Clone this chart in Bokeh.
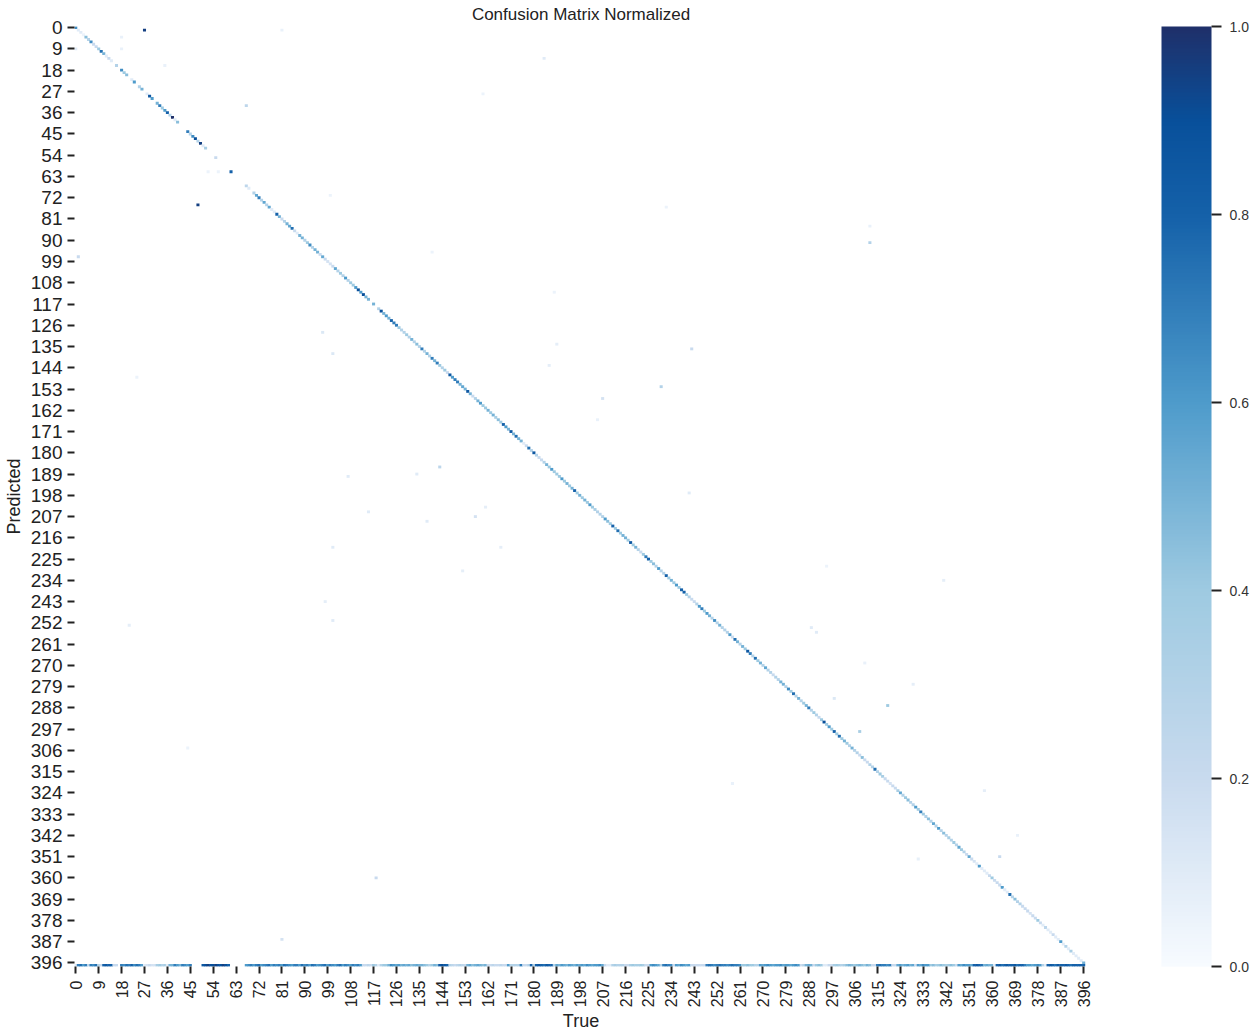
import math
import numpy as np
from bokeh.embed import file_html
from bokeh.resources import INLINE
from bokeh.plotting import figure
from bokeh.models import ColorBar, FixedTicker, LinearColorMapper, ColumnDataSource, PrintfTickFormatter
from bokeh.colors import RGB

tick_labels = list(range(0, 397, 9))
colorbar_ticks = [0.0, 0.2, 0.4, 0.6, 0.8, 1.0]

diagonal = [
 .65,.1,.1,.05,.45,.3,.65,.2,.2,.4,
 .75,.5,.1,.2,.1,0,.3,0,.65,.4,
 .45,0,.1,.6,0,.3,.5,0,.1,.85,
 .6,0,.5,.7,.4,.6,.8,.3,1.0,.1,
 .45,0,0,0,.7,.3,.65,.9,.3,.95,
 .1,.35,0,0,0,.2,0,0,0,0,
 0,.8,0,0,0,0,0,.25,.1,0,
 .3,.55,.7,.3,.55,.3,.55,.1,.1,.8,
 .5,.2,.3,.5,.55,.75,.2,.1,.5,.5,
 .3,.4,.65,.3,.5,.5,.2,.55,.2,.15,
 .15,.2,.55,.3,.4,.3,.6,.3,.4,.4,
 .6,.9,.6,.9,.5,.5,0,.5,0,.3,
 .9,.5,.6,.5,.8,.7,.7,.4,.3,.3,
 .4,.3,.5,.3,.45,.3,.7,.3,.5,.3,
 .7,.5,.7,.4,.3,.4,.2,.85,.6,.7,
 .7,.5,.55,.5,.85,.5,.2,.3,.5,.6,
 .4,.4,.5,.4,.5,.35,.45,.4,.8,.6,
 .5,.85,.5,.75,.5,.5,.1,.2,.75,.3,
 .85,.3,.2,.2,.3,.5,.4,.6,.4,.4,
 .4,.6,.4,.5,.4,.5,.8,.4,.5,.4,
 .5,.4,.6,.4,.35,.3,.3,.3,.6,.45,
 .4,.8,.4,.75,.4,.5,.5,.4,.85,.4,
 .5,.3,.2,.4,.7,.8,.4,.45,.3,.6,
 .3,.3,.8,.4,.5,.4,.6,.4,.8,.8,
 .4,.3,.2,.2,.3,.6,.7,.4,.6,.5,
 .3,.65,.3,.5,.3,.3,.3,.6,.2,.75,
 .5,.3,.5,.4,.85,.7,.3,.75,.4,.5,
 .3,.55,.3,.3,.2,.3,.3,.5,.5,.3,
 .65,.4,.75,.3,.5,.3,.4,.5,.7,.3,
 .4,.3,.2,.4,.9,.4,.6,.4,.8,.4,
 .75,.4,.5,.4,.3,.5,.3,.3,.2,.45,
 .2,.2,.3,.3,.75,.3,.4,.35,.2,.2,
 .15,.2,.2,.35,.55,.3,.4,.45,.3,.3,
 .6,.4,.7,.4,.3,.45,.3,.55,.3,.6,
 .3,.45,.3,.35,.3,.4,.3,.55,.4,.3,
 .2,.55,.2,.15,.1,.6,.1,.1,.1,.2,
 .4,.2,.2,.2,.6,.1,.1,.75,.3,.45,
 .3,.3,.2,.2,.2,.15,.2,.2,.4,.2,
 .1,.25,.1,.1,.2,.1,.1,.6,.1,.3,
 .1,.35,.1,.1,.1,.1,.5,
]

background_row = [
 .1,.7,.75,.6,.7,.25,.7,.65,.75,.3,
 .2,.8,.85,.8,.8,.2,.2,0,.7,.65,
 .75,.7,.8,.65,.75,.7,.6,.1,.15,.2,
 .15,.15,.35,.4,.3,.35,.1,.5,.5,.7,
 .6,.5,.7,.65,.6,.7,0,0,0,0,
 .85,.9,.95,.9,.9,.95,.9,.9,.95,.9,
 .8,0,0,0,0,0,0,.6,.65,.7,
 .6,.7,.75,.6,.65,.7,.75,.6,.7,.65,
 .7,.6,.75,.7,.65,.6,.7,.7,.6,.75,
 .65,.7,.6,.75,.7,.6,.65,.7,.75,.6,
 .7,.65,.6,.7,.75,.6,.7,.65,.6,.7,
 .65,.7,.6,.2,.2,.25,.2,.4,.3,.1,
 .3,.4,.4,.5,.65,.6,.55,.6,.5,.55,
 .5,.55,.45,.5,.55,.5,.5,.45,.4,.3,
 .4,.5,.45,.85,.9,.85,.8,.3,.25,.2,
 .25,.3,.25,.2,.5,.55,.45,.5,.55,.5,
 .45,.5,.2,.2,.25,.2,.2,.25,.2,.2,
 .6,.3,.3,.3,.3,.7,.2,.2,.3,.8,
 .3,.8,.85,.8,.75,.85,.8,.8,.3,.55,
 .5,.6,.55,.5,.6,.55,.5,.6,.55,.6,
 .55,.65,.6,.55,.6,.6,.65,.55,.2,.1,
 .1,.3,.35,.3,.3,.3,.2,.2,.35,.4,
 .35,.35,.4,.35,.2,.2,.6,.65,.6,.55,
 .3,.7,.75,.7,.65,.2,.6,.55,.65,.6,
 .55,.6,.2,.2,.2,.2,.2,.2,.7,.75,
 .7,.65,.7,.75,.7,.7,.65,.7,.75,.7,
 .7,.65,.4,.4,.45,.4,.4,.3,.3,.6,
 .55,.6,.65,.6,.55,.6,.6,.65,.55,.6,
 .6,.55,.6,.65,.6,.2,.3,.5,.55,.5,
 .2,.4,.45,.4,.1,.1,.2,.2,.35,.4,
 .35,.3,.35,.45,.5,.45,.4,.45,.5,.45,
 .4,.5,.45,.2,.2,.7,.75,.7,.7,.65,
 .7,.2,.2,.55,.6,.5,.55,.6,.5,.55,
 .2,.6,.55,.65,.6,.6,.4,.45,.35,.4,
 .45,.4,.35,.4,.45,.4,.2,.6,.55,.65,
 .6,.6,.55,.8,.85,.8,.75,.5,.55,.5,
 .5,.1,.8,.85,.75,.8,.85,.8,.8,.85,
 .75,.8,.8,.7,.6,.6,.55,.6,.65,.6,
 .3,.1,.8,.85,.8,.75,.85,.8,.8,.85,
 .8,.75,.8,.8,.8,.8,.8,
]

stray_col = [27,48,67,0,312,1,242,230,207,143,157,319,308,363,118,81,184,115,101,101,98,
             289,291,298,341,107,134,97,101,189,186,167,152,138,161,241,21,312,329,357,
             205,188,44,24,100,258,331,140,160,232,310,295,370,81,52,56,18,18,35]
stray_row = [1,75,33,9,91,97,136,152,157,186,207,287,298,351,360,386,13,205,220,251,243,
             254,256,284,234,190,189,129,138,134,143,220,230,209,203,197,253,84,278,323,
             166,112,305,148,71,320,352,95,28,76,269,228,342,1,61,61,4,9,16]
stray_val = [.95,.95,.25,.1,.3,.2,.2,.3,.15,.25,.15,.4,.35,.2,.2,.15,.1,.1,.1,.1,.08,
             .1,.1,.12,.08,.1,.1,.12,.12,.08,.08,.08,.08,.1,.08,.1,.08,.06,.08,.08,
             .06,.05,.05,.05,.05,.06,.07,.05,.05,.05,.06,.05,.06,.06,.05,.05,.06,.06,.06]

ANCHOR_V = [0, .2, .4, .6, .8, .9, 1.0]
ANCHOR_C = [(247,251,255),(200,218,238),(158,202,225),(78,155,203),(21,97,169),(8,80,155),(31,48,106)]
palette = [RGB(*[int(round(np.interp(k/255, ANCHOR_V, [c[j] for c in ANCHOR_C]))) for j in range(3)]).to_hex()
           for k in range(256)]
mapper = LinearColorMapper(palette=palette, low=0, high=1)

xs, ys, vs = [], [], []
for i, v in enumerate(diagonal):
    if v > 0:
        xs.append(i); ys.append(i); vs.append(v)
for i, v in enumerate(background_row):
    if v > 0:
        xs.append(i); ys.append(397); vs.append(v)
xs += stray_col; ys += stray_row; vs += stray_val
source = ColumnDataSource(dict(x=xs, y=ys, v=vs))

FONT = "Liberation Sans"
p = figure(width=1254, height=1034, output_backend="svg", toolbar_location=None,
           x_range=(-0.5, 397.5), y_range=(397.5, -0.5),
           title="Confusion Matrix Normalized", x_axis_label="True", y_axis_label="Predicted",
           min_border_left=73, min_border_top=26, min_border_right=167, min_border_bottom=67,
           margin=(0, 0, 0, 0))
p.rect("x", "y", width=1.2, height=1.2, source=source, line_color=None,
       fill_color={"field": "v", "transform": mapper})

p.grid.visible = False
p.outline_line_color = None
p.title.align = "center"
p.title.vertical_align = "top"
p.title.text_font = FONT
p.title.text_font_size = "17px"
p.title.text_font_style = "normal"
p.title.text_color = "#222222"
p.title.standoff = 2

for ax, fs in ((p.xaxis[0], "16px"), (p.yaxis[0], "19px")):
    ax.ticker = FixedTicker(ticks=tick_labels)
    ax.axis_line_color = None
    ax.major_tick_line_color = "#222222"
    ax.major_tick_line_width = 2
    ax.major_tick_out = 7
    ax.major_tick_in = 0
    ax.minor_tick_line_color = None
    ax.major_label_text_font = FONT
    ax.major_label_text_font_size = fs
    ax.major_label_text_color = "#222222"
    ax.axis_label_text_font = FONT
    ax.axis_label_text_font_style = "normal"
    ax.axis_label_text_font_size = "18px"
    ax.axis_label_text_color = "#222222"
p.xaxis[0].major_label_orientation = math.pi / 2
p.xaxis[0].major_label_standoff = 7
p.yaxis[0].major_label_standoff = 5
p.yaxis[0].axis_label_standoff = 4
p.xaxis[0].axis_label_standoff = 1

cb = ColorBar(color_mapper=mapper, width=50, height="auto", padding=0, margin=0, location=(74, 0),
              ticker=FixedTicker(ticks=colorbar_ticks), formatter=PrintfTickFormatter(format="%.1f"),
              major_label_text_font=FONT,
              major_label_text_font_size="14px", major_label_text_color="#333333",
              major_tick_line_color="#222222", major_tick_out=10, major_tick_in=0,
              major_tick_line_width=2, minor_tick_line_color=None, bar_line_color=None,
              label_standoff=8)
p.add_layout(cb, "right")

open("out.html", "w").write(file_html(p, INLINE))
